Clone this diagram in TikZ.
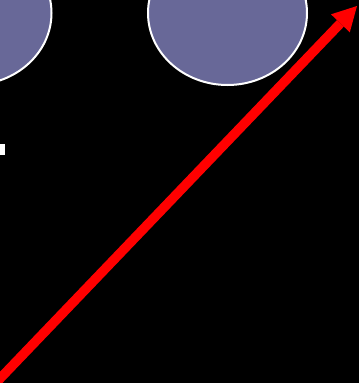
\documentclass[tikz,border=0pt]{standalone}
\usetikzlibrary{shapes.geometric,arrows.meta}
\definecolor{blobfill}{RGB}{104,104,152}
\definecolor{arrowred}{RGB}{255,0,0}
\tikzset{
  blob/.style={ellipse, draw=white, line width=2pt, fill=blobfill, minimum width=159pt, minimum height=144pt, inner sep=0pt},
  redarrow/.style={draw=arrowred, line width=9.5pt, -{Triangle[length=24pt,width=26pt,line width=0pt]}},
}
\begin{document}
\begin{tikzpicture}[x=1pt,y=-1pt]
  \fill[black] (0,0) rectangle (359,383);
  \useasboundingbox (0,0) rectangle (359,383);
  \clip (0,0) rectangle (359,383);
  \node[blob] (left) at (-28,13) {};
  \node[blob] (right) at (227.5,13) {};
  \node[fill=white, inner sep=0pt, minimum width=5pt, minimum height=11pt, anchor=north west] (mark) at (0,144) {};
  \coordinate (start) at (-10,389);
  \coordinate (tip) at (357,6);
  \draw[redarrow] (start) -- (tip);
\end{tikzpicture}
\end{document}
